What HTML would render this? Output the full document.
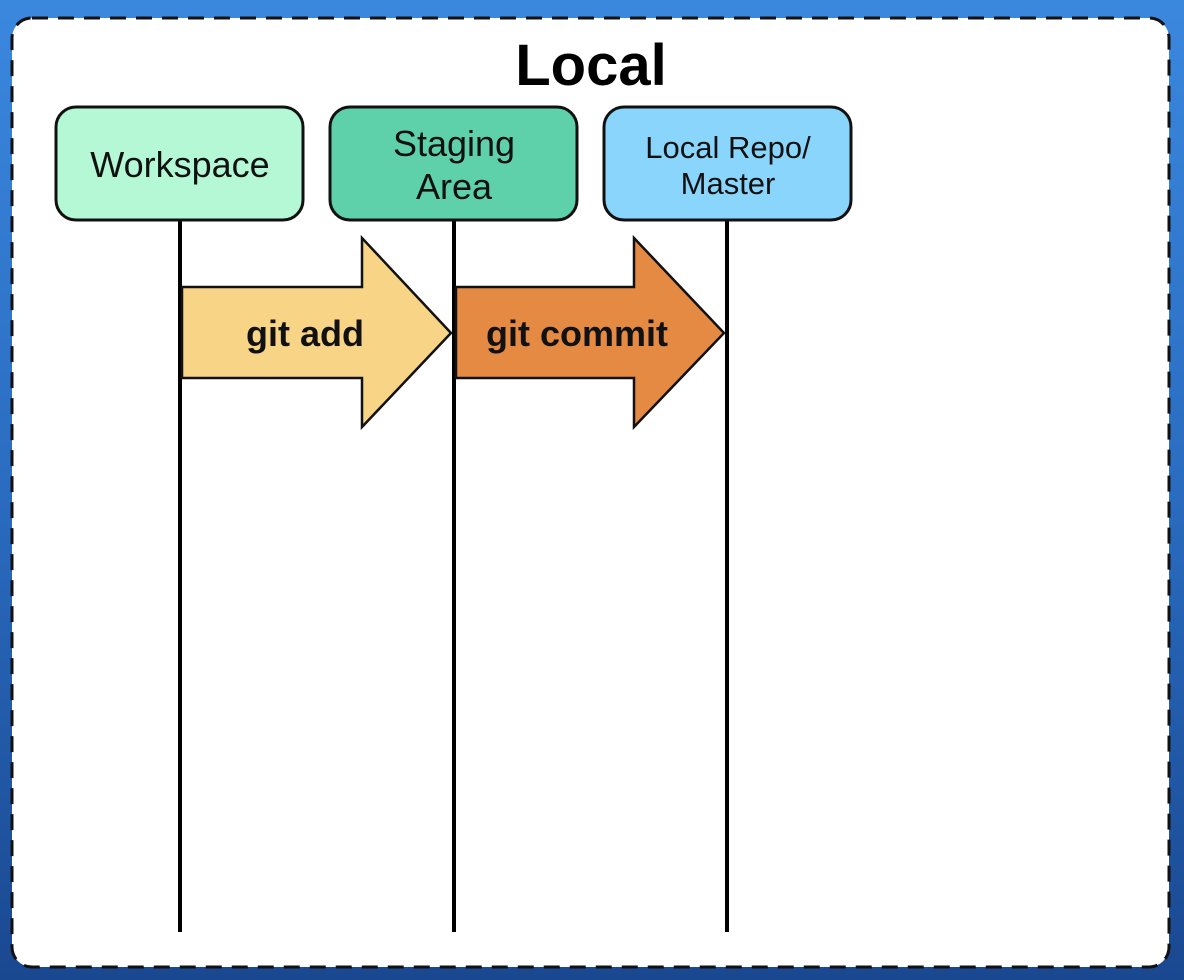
<!DOCTYPE html>
<html><head><meta charset="utf-8"><style>
html,body{margin:0;padding:0}
body{width:1184px;height:980px;overflow:hidden;background:linear-gradient(#3a88de,#2a6cc0 50%,#1a4890);}
</style></head><body>
<svg width="1184" height="980" xmlns="http://www.w3.org/2000/svg" style="position:absolute;left:0;top:0">
<rect x="12" y="18" width="1157" height="949" rx="20" fill="#fff" stroke="#111" stroke-width="3" stroke-dasharray="16,10"/>
<text x="591" y="85" text-anchor="middle" font-family="Liberation Sans, sans-serif" font-weight="bold" font-size="58" fill="#000">Local</text>
<g stroke="#000" stroke-width="4">
<line x1="180" y1="220" x2="180" y2="932"/>
<line x1="454" y1="220" x2="454" y2="932"/>
<line x1="727" y1="220" x2="727" y2="932"/>
</g>
<g stroke="#111" stroke-width="3">
<rect x="56" y="107" width="247" height="113" rx="20" fill="#b5f8d6"/>
<rect x="330" y="107" width="247" height="113" rx="20" fill="#5ed1aa"/>
<rect x="604" y="107" width="247" height="113" rx="20" fill="#8ad5fb"/>
</g>
<g font-family="Liberation Sans, sans-serif" fill="#111" text-anchor="middle">
<text x="180" y="177" font-size="36">Workspace</text>
<text x="454" y="156" font-size="36">Staging</text>
<text x="454" y="199" font-size="36">Area</text>
<text x="728" y="158" font-size="31">Local Repo/</text>
<text x="728" y="194" font-size="31">Master</text>
</g>
<g stroke="#111" stroke-width="2.5" stroke-linejoin="miter">
<polygon points="182,287 362,287 362,238 451,333 362,427 362,378 182,378" fill="#f8d486"/>
<polygon points="456,287 634,287 634,238 724,333 634,427 634,378 456,378" fill="#e58a42"/>
</g>
<g font-family="Liberation Sans, sans-serif" font-weight="bold" font-size="36" fill="#111" text-anchor="middle">
<text x="305" y="346">git add</text>
<text x="577" y="346">git commit</text>
</g>
</svg>
</body></html>
